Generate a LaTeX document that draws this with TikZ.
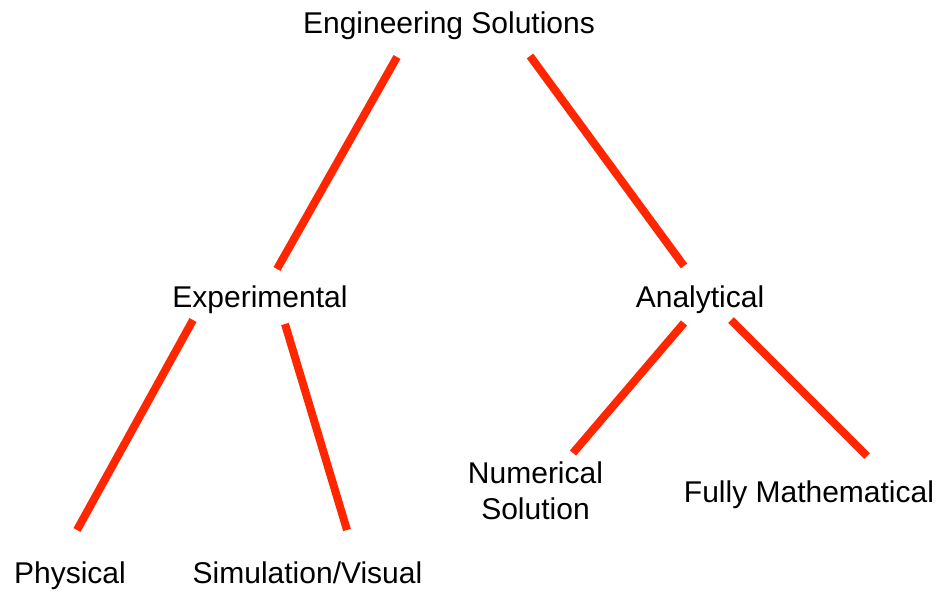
\documentclass[tikz,border=0pt]{standalone}
\usepackage{fontspec}
\setmainfont{Liberation Sans}
\definecolor{linered}{HTML}{FF2600}
\begin{document}
\begin{tikzpicture}[x=0.75pt,y=-0.75pt,
  lbl/.style={anchor=base,inner sep=0pt,font=\fontsize{22.5pt}{27pt}\selectfont},
  conn/.style={draw=linered,line width=6pt,line cap=butt}]
\useasboundingbox (0,0) rectangle (942,594);
\node[lbl] (root) at (449,33) {Engineering Solutions};
\node[lbl] (exp) at (260,307) {Experimental};
\node[lbl] (ana) at (700,307) {Analytical};
\node[lbl,align=center] (num) at (535.5,519) {Numerical\\Solution};
\node[lbl] (full) at (809,502) {Fully Mathematical};
\node[lbl] (phys) at (70,583) {Physical};
\node[lbl] (sim) at (307.5,583) {Simulation/Visual};
% connector end points
\coordinate (r1) at (397,57);  \coordinate (e1) at (277,269);
\coordinate (r2) at (530,56);  \coordinate (a1) at (684,266);
\coordinate (e2) at (193,320); \coordinate (p1) at (77,530);
\coordinate (e3) at (285,324); \coordinate (s1) at (347,530);
\coordinate (a2) at (684,323); \coordinate (n1) at (573,453);
\coordinate (a3) at (731,320); \coordinate (f1) at (867,456);
\draw[conn] (r1) -- (e1);
\draw[conn] (r2) -- (a1);
\draw[conn] (e2) -- (p1);
\draw[conn] (e3) -- (s1);
\draw[conn] (a2) -- (n1);
\draw[conn] (a3) -- (f1);
\end{tikzpicture}
\end{document}
